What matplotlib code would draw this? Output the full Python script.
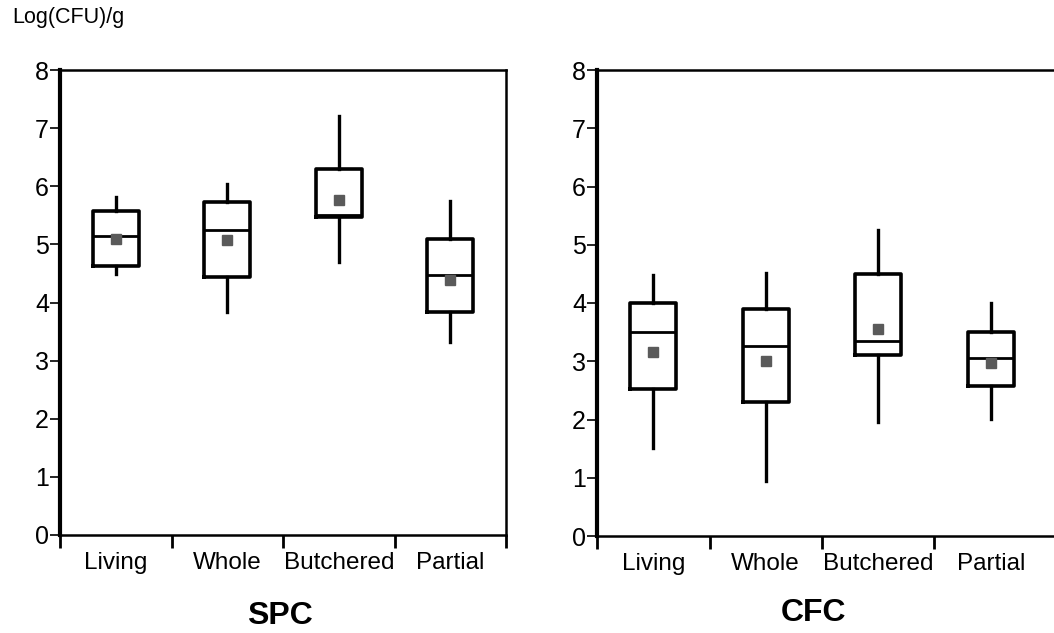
import matplotlib
matplotlib.use("Agg")
import matplotlib.pyplot as plt

plt.rcParams['font.family'] = ['Liberation Sans', 'DejaVu Sans']

categories = ["Living", "Whole", "Butchered", "Partial"]

# SPC values (Log CFU/g)
spc_whislo = [4.49, 3.84, 4.70, 3.32]
spc_q1 = [4.63, 4.44, 5.47, 3.84]
spc_med = [5.15, 5.25, 5.50, 4.47]
spc_q3 = [5.58, 5.73, 6.30, 5.09]
spc_whishi = [5.82, 6.04, 7.21, 5.75]
spc_mean = [5.10, 5.07, 5.76, 4.39]

# CFC values
cfc_whislo = [1.51, 0.94, 1.96, 2.01]
cfc_q1 = [2.52, 2.30, 3.11, 2.58]
cfc_med = [3.50, 3.26, 3.35, 3.06]
cfc_q3 = [4.00, 3.90, 4.50, 3.50]
cfc_whishi = [4.48, 4.52, 5.25, 4.00]
cfc_mean = [3.16, 3.00, 3.55, 2.97]

yticks = [0, 1, 2, 3, 4, 5, 6, 7, 8]

W, H = 1054, 633


def make_stats(lo, q1, med, q3, hi, mean):
    stats = []
    for i in range(len(categories)):
        stats.append({"whislo": lo[i], "q1": q1[i], "med": med[i], "q3": q3[i],
                      "whishi": hi[i], "mean": mean[i], "fliers": [], "label": categories[i]})
    return stats


def draw_panel(ax, stats, xmax, boundary_ticks):
    positions = [i + 0.5 for i in range(len(categories))]
    ax.bxp(stats, positions=positions, widths=0.41, showmeans=True, showcaps=False,
           showfliers=False, patch_artist=False,
           boxprops=dict(color="black", linewidth=2.6),
           whiskerprops=dict(color="black", linewidth=2.4),
           medianprops=dict(color="black", linewidth=2.0),
           meanprops=dict(marker="s", markersize=7.5, markerfacecolor="#5a5a5a",
                          markeredgecolor="#5a5a5a"))
    ax.set_xlim(0, xmax)
    ax.set_ylim(0, 8)
    ax.set_yticks(yticks)
    ax.set_yticklabels([str(t) for t in yticks], fontsize=18)
    ax.set_xticks(boundary_ticks)
    ax.set_xticklabels([])
    ax.set_xticks(positions, minor=True)
    ax.set_xticklabels(categories, minor=True, fontsize=17.5)
    ax.tick_params(axis="x", which="major", direction="out", length=9, width=2)
    ax.tick_params(axis="x", which="minor", length=0, pad=12)
    ax.tick_params(axis="y", direction="out", length=7, width=1.2, pad=1)
    ax.spines["left"].set_linewidth(3.0)
    for s in ["top", "right", "bottom"]:
        ax.spines[s].set_linewidth(1.8)


fig = plt.figure(figsize=(W / 100, H / 100), dpi=100)

ax1 = fig.add_axes([60 / W, 1 - 535 / H, 446 / W, 465 / H])
draw_panel(ax1, make_stats(spc_whislo, spc_q1, spc_med, spc_q3, spc_whishi, spc_mean),
           4, [0, 1, 2, 3, 4])

ax2 = fig.add_axes([597 / W, 1 - 536 / H, 4.1 * 112.5 / W, 466 / H])
draw_panel(ax2, make_stats(cfc_whislo, cfc_q1, cfc_med, cfc_q3, cfc_whishi, cfc_mean),
           4.1, [0, 1, 2, 3])

fig.text(12 / W, 1 - 18 / H, "Log(CFU)/g", fontsize=15.5, va="center", ha="left")
fig.text(280 / W, 1 - 616 / H, "SPC", fontsize=23, fontweight="bold", ha="center", va="center")
fig.text(813 / W, 1 - 613 / H, "CFC", fontsize=23, fontweight="bold", ha="center", va="center")

fig.savefig("out.png", dpi=100)
